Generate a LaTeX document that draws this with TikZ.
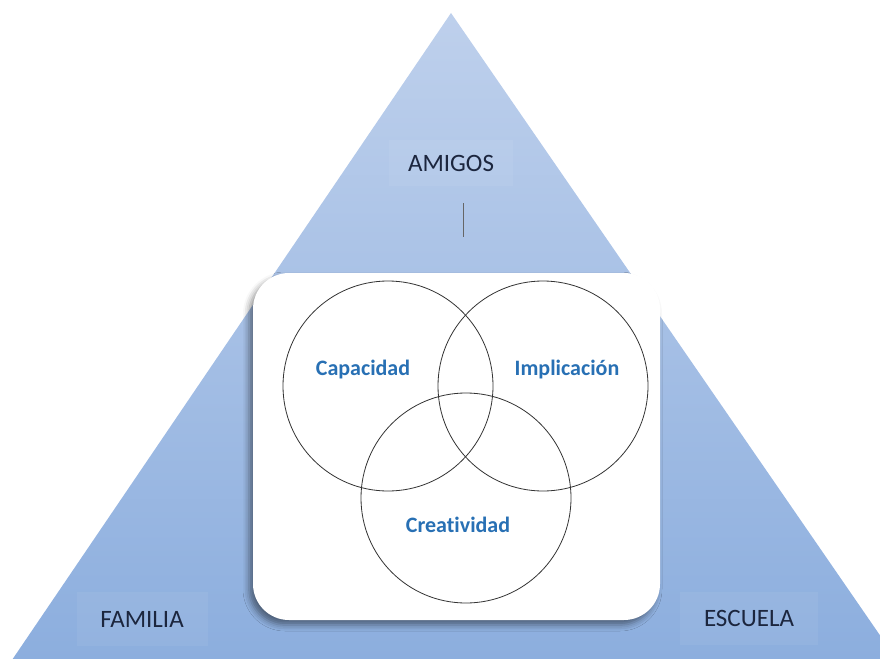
\documentclass[tikz,border=0pt]{standalone}
\usepackage{fontspec}
\setmainfont{Carlito}[Ligatures=NoCommon]
\usetikzlibrary{shadows.blur}
\definecolor{pyrtop}{RGB}{190,208,236}
\definecolor{pyrbot}{RGB}{140,174,222}
\definecolor{vennblue}{RGB}{40,112,180}
\definecolor{tagink}{RGB}{28,38,62}

\begin{document}
\begin{tikzpicture}[x=1pt,y=-1pt,
  tag/.style={fill=white,fill opacity=.06,text opacity=1,text=tagink,
    font=\fontsize{25}{28}\selectfont,inner sep=0pt},
  ring/.style={circle,draw=black!80,line width=.8pt,minimum size=210pt,inner sep=0pt},
  ringlab/.style={text=vennblue,font=\bfseries\fontsize{22}{26}\selectfont}]
  \useasboundingbox (0,0) rectangle (880,658);
  \clip (0,0) rectangle (880,658);

  % pyramid of the three settings
  \shade[top color=pyrtop,bottom color=pyrbot] (451,13) -- (897,660) -- (12,660) -- cycle;

  \node[tag,minimum width=124pt,minimum height=46pt] (amigos) at (451,163) {AMIGOS};
  \node[tag,minimum width=131pt,minimum height=54pt] (familia) at (142,619) {FAMILIA};
  \node[tag,minimum width=138pt,minimum height=53pt] (escuela) at (749,618) {ESCUELA};

  \coordinate (bartop) at (463,203);
  \coordinate (barbot) at (463,237);
  \draw[gray!80!black,line width=.7pt] (bartop) -- (barbot);

  % white panel with the venn diagram
  \node[fill=white,rounded corners=36pt,minimum width=407pt,minimum height=347pt,
    blur shadow={shadow xshift=-4pt,shadow yshift=-5pt,shadow blur radius=6pt,shadow opacity=45}]
    (panel) at (456.5,446.5) {};

  \node[ring] (cap) at (388,386) {};
  \node[ring] (imp) at (543,386) {};
  \node[ring] (cre) at (466,498) {};

  \node[ringlab] (caplab) at (363,370) {Capacidad};
  \node[ringlab] (implab) at (567,370) {Implicación};
  \node[ringlab] (crelab) at (458,525) {Creatividad};
\end{tikzpicture}
\end{document}
